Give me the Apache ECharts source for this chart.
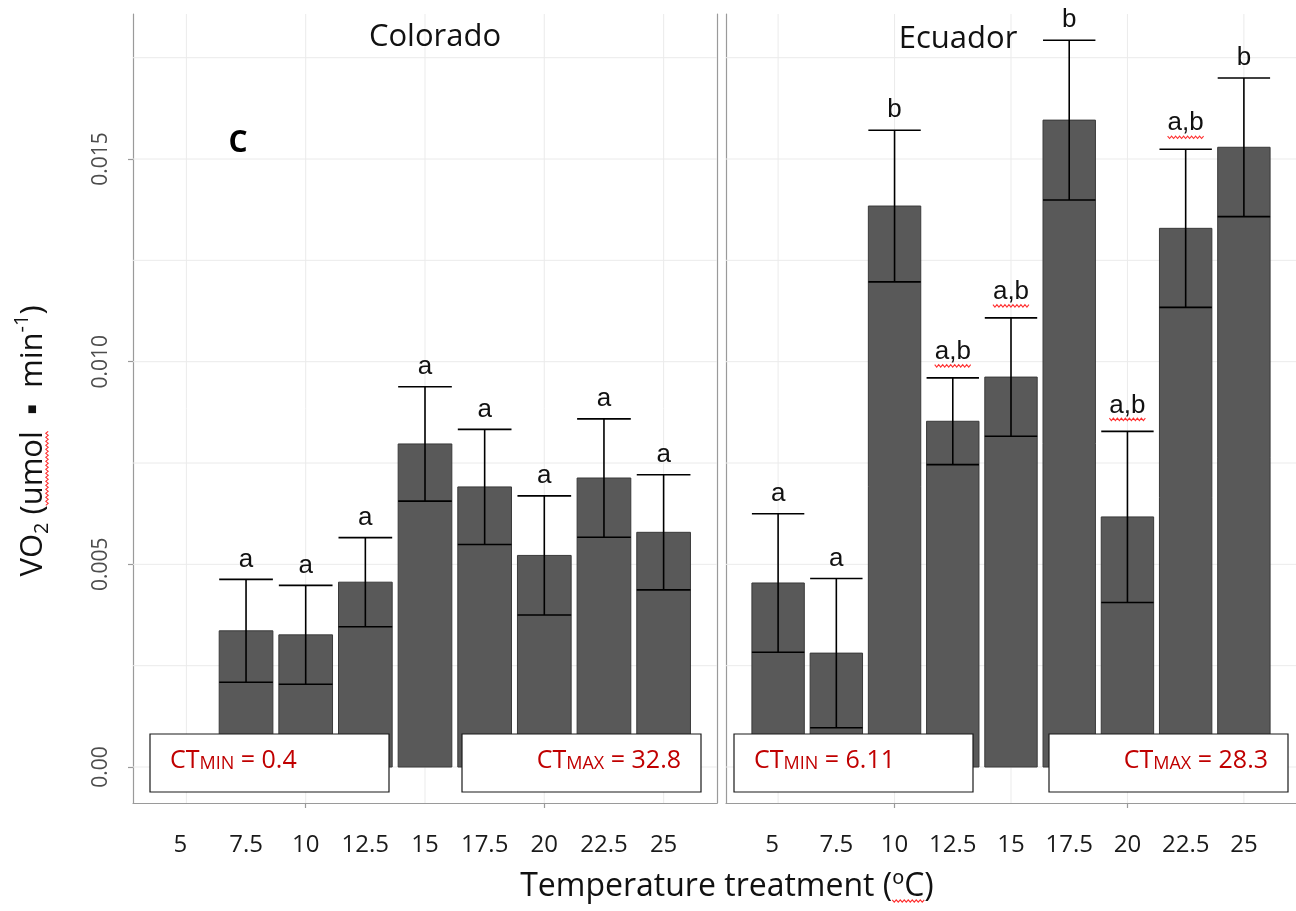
<!DOCTYPE html>
<html>
<head>
<meta charset="utf-8">
<title>VO2 by temperature treatment</title>
<script src="https://cdn.jsdelivr.net/npm/echarts@6/dist/echarts.min.js"></script>
<style>
  html, body { margin: 0; padding: 0; background: #ffffff; }
  #chart { width: 1296px; height: 911px; }
</style>
</head>
<body>
<div id="chart"></div>
<script>
// Treatment temperatures (ºC), shared by both populations
const temps = [5, 7.5, 10, 12.5, 15, 17.5, 20, 22.5, 25];
const tempLabels = ['5', '7.5', '10', '12.5', '15', '17.5', '20', '22.5', '25'];

// Colorado: mean VO2 (umol · min-1) and standard error; nothing measured at 5 ºC
const coloradoMean = [null, 0.00336, 0.00326, 0.00456, 0.00797, 0.00691, 0.00522, 0.00713, 0.00579];
const coloradoSE = [null, 0.00127, 0.00122, 0.00110, 0.00141, 0.00142, 0.00147, 0.00146, 0.00142];
const coloradoGroups = [null, 'a', 'a', 'a', 'a', 'a', 'a', 'a', 'a'];

// Ecuador
const ecuadorMean = [0.00454, 0.00281, 0.01384, 0.00853, 0.00962, 0.01596, 0.00617, 0.01329, 0.01529];
const ecuadorSE = [0.00171, 0.00184, 0.00187, 0.00107, 0.00146, 0.00197, 0.00211, 0.00195, 0.00171];
const ecuadorGroups = ['a', 'a', 'b', 'a,b', 'a,b', 'b', 'a,b', 'a,b', 'b'];

// Axis ticks and reference lines
const yTicks = [0, 0.005, 0.010, 0.015];
const yTickLabels = ['0.00', '0.005', '0.010', '0.015'];
const yGridValues = [0, 0.0025, 0.005, 0.0075, 0.010, 0.0125, 0.015, 0.0175];
const xGridValues = [5, 10, 15, 20, 25];
const xTickValues = [10, 20];

// Critical thermal limits (ºC): Colorado, Ecuador
const ctMin = ['0.4', '6.11'];
const ctMax = ['32.8', '28.3'];
const panelNames = ['Colorado', 'Ecuador'];

// ---- layout ----
const X_MIN = 2.7625, X_MAX = 27.2375;   // bar range 3.875..26.125 padded by 5 %
const Y_MIN = -0.000888, Y_MAX = 0.018578;
const BAR_HALF = 1.125;                  // bar width 2.25 ºC
const SANS = '"Open Sans", "Noto Sans", sans-serif';
const LETTER_FONT = '26px "Liberation Sans", Arial, sans-serif';
const GRID_GRAY = '#ebebeb';
const BORDER_GRAY = '#9a9a9a';
const RED = '#c00000';
const WAVY_RED = '#ff3030';

const measureCtx = document.createElement('canvas').getContext('2d');
function textWidth(str, font) {
  measureCtx.font = font;
  return measureCtx.measureText(str).width;
}

// zig-zag spell-check underline
function squiggle(x0, x1, y) {
  const pts = [];
  let up = true;
  for (let x = x0; x <= x1 + 0.01; x += 2) {
    pts.push([x, y + (up ? -1.2 : 1.2)]);
    up = !up;
  }
  return pts;
}

function rows(means, ses) {
  const out = [];
  temps.forEach((t, i) => {
    if (means[i] != null) out.push([t, means[i], ses[i], i]);
  });
  return out;
}

function renderBar(params, api) {
  const x = api.value(0), m = api.value(1);
  const p0 = api.coord([x - BAR_HALF, m]);
  const p1 = api.coord([x + BAR_HALF, 0]);
  return {
    type: 'rect',
    shape: { x: p0[0], y: p0[1], width: p1[0] - p0[0], height: p1[1] - p0[1] },
    style: { fill: '#595959', stroke: '#3a3a3a', lineWidth: 1 }
  };
}

function errorBarRenderer(groups) {
  return function (params, api) {
    const x = api.value(0), m = api.value(1), se = api.value(2);
    const label = groups[api.value(3)];
    const top = api.coord([x, m + se]);
    const bot = api.coord([x, m - se]);
    const left = api.coord([x - BAR_HALF, 0])[0];
    const right = api.coord([x + BAR_HALF, 0])[0];
    const ls = { stroke: '#000000', lineWidth: 1.6 };
    const children = [
      { type: 'line', shape: { x1: top[0], y1: top[1], x2: bot[0], y2: bot[1] }, style: ls },
      { type: 'line', shape: { x1: left, y1: top[1], x2: right, y2: top[1] }, style: ls },
      { type: 'line', shape: { x1: left, y1: bot[1], x2: right, y2: bot[1] }, style: ls }
    ];
    const paired = label.indexOf(',') >= 0;
    const baseline = top[1] - (paired ? 18 : 12);
    children.push({
      type: 'text',
      style: { text: label, x: top[0], y: baseline + 5, align: 'center', verticalAlign: 'bottom',
               font: LETTER_FONT, fill: '#111111' }
    });
    if (paired) {
      const w = textWidth(label, LETTER_FONT);
      children.push({
        type: 'polyline',
        shape: { points: squiggle(top[0] - w / 2, top[0] + w / 2, baseline + 6) },
        style: { stroke: WAVY_RED, lineWidth: 1.1, fill: 'none' }
      });
    }
    return { type: 'group', children: children };
  };
}

function renderHLine(params, api) {
  const v = api.value(1);
  const a = api.coord([X_MIN, v]), b = api.coord([X_MAX, v]);
  return { type: 'line', shape: { x1: a[0], y1: a[1], x2: b[0], y2: b[1] },
           style: { stroke: GRID_GRAY, lineWidth: 1 } };
}
function renderVLine(params, api) {
  const v = api.value(0);
  const a = api.coord([v, Y_MIN]), b = api.coord([v, Y_MAX]);
  return { type: 'line', shape: { x1: a[0], y1: a[1], x2: b[0], y2: b[1] },
           style: { stroke: GRID_GRAY, lineWidth: 1 } };
}

function xAxisFor(gridIndex) {
  return {
    type: 'value', gridIndex: gridIndex, min: X_MIN, max: X_MAX,
    axisLine: { show: true, onZero: false, lineStyle: { color: BORDER_GRAY, width: 1.2 } },
    axisTick: { show: true, customValues: xTickValues, length: 5, lineStyle: { color: BORDER_GRAY, width: 1.2 } },
    axisLabel: {
      customValues: temps,
      // the first label sits a little left of its bar
      formatter: v => {
        const i = temps.indexOf(v);
        return i === 0 ? '{first|' + tempLabels[i] + '}' : tempLabels[i];
      },
      rich: { first: { fontFamily: SANS, fontSize: 24, color: '#1a1a1a', padding: [0, 12, 0, 0] } },
      fontFamily: SANS, fontSize: 24, color: '#1a1a1a', margin: 30
    },
    splitLine: { show: false }
  };
}

function borderYAxis(gridIndex, position) {
  return {
    type: 'value', gridIndex: gridIndex, position: position, min: Y_MIN, max: Y_MAX,
    axisLine: { show: true, onZero: false, lineStyle: { color: BORDER_GRAY, width: 1.2 } },
    axisTick: { show: false }, axisLabel: { show: false }, splitLine: { show: false }
  };
}

const panels = [
  { means: coloradoMean, ses: coloradoSE, groups: coloradoGroups, xAxis: 0, yAxis: 0 },
  { means: ecuadorMean, ses: ecuadorSE, groups: ecuadorGroups, xAxis: 1, yAxis: 2 }
];

const series = [];
panels.forEach(p => {
  const base = { type: 'custom', xAxisIndex: p.xAxis, yAxisIndex: p.yAxis, silent: true, animation: false };
  series.push(Object.assign({}, base, { z: 1, renderItem: renderHLine, data: yGridValues.map(v => [X_MIN, v]) }));
  series.push(Object.assign({}, base, { z: 1, renderItem: renderVLine, data: xGridValues.map(v => [v, 0]) }));
  series.push(Object.assign({}, base, { z: 2, renderItem: renderBar, data: rows(p.means, p.ses) }));
  series.push(Object.assign({}, base, { z: 3, renderItem: errorBarRenderer(p.groups), data: rows(p.means, p.ses) }));
});

// ---- annotations ----
function titlePieces(pieces, family) {
  // lays out a run of text pieces left to right, centred on 0
  let total = 0;
  pieces.forEach(pc => { pc.w = textWidth(pc.t, pc.size + 'px ' + family); total += pc.w; });
  let x = -total / 2;
  const out = [];
  pieces.forEach(pc => {
    out.push({ type: 'text', style: { text: pc.t, x: x, y: pc.dy || 0, align: 'left', verticalAlign: 'middle',
      font: pc.size + 'px ' + family, fill: '#111111' } });
    if (pc.wavy) {
      out.push({ type: 'polyline', shape: { points: squiggle(x, x + pc.w, pc.wavyY) },
        style: { stroke: WAVY_RED, lineWidth: 1.1, fill: 'none' } });
    }
    x += pc.w;
  });
  return out;
}

const yTitle = titlePieces([
  { t: 'VO', size: 31 },
  { t: '2', size: 20, dy: 9 },
  { t: ' (', size: 31 },
  { t: 'umol', size: 31, wavy: true, wavyY: 14 },
  { t: '  \u25AA  ', size: 31 },
  { t: 'min', size: 31 },
  { t: '-1', size: 20, dy: -11 },
  { t: ')', size: 31 }
], SANS);

const xTitle = titlePieces([
  { t: 'Temperature treatment (', size: 32 },
  { t: '\u00BAC', size: 32, wavy: true, wavyY: 14 },
  { t: ')', size: 32 }
], SANS);

function ctBox(x, w, text, alignRight) {
  return {
    type: 'group', z: 100,
    children: [
      { type: 'rect', shape: { x: x, y: 734, width: w, height: 58 },
        style: { fill: '#ffffff', stroke: '#1a1a1a', lineWidth: 1.2 }, z: 100 },
      { type: 'text', z: 101,
        style: {
          text: text, x: alignRight ? x + w - 20 : x + 20, y: 773, align: alignRight ? 'right' : 'left',
          verticalAlign: 'bottom',
          rich: {
            a: { fontFamily: SANS, fontSize: 25, fill: RED, verticalAlign: 'bottom', lineHeight: 30 },
            b: { fontFamily: SANS, fontSize: 18, fill: RED, verticalAlign: 'bottom', lineHeight: 30 }
          }
        } }
    ]
  };
}

const graphics = [
  { type: 'text', z: 50, style: { text: panelNames[0], x: 435, y: 37, align: 'center', verticalAlign: 'middle',
      font: '31px ' + SANS, fill: '#111111' } },
  { type: 'text', z: 50, style: { text: panelNames[1], x: 958, y: 39, align: 'center', verticalAlign: 'middle',
      font: '31px ' + SANS, fill: '#111111' } },
  { type: 'text', z: 50, style: { text: 'C', x: 238, y: 143, align: 'center', verticalAlign: 'middle',
      font: 'bold 30px ' + SANS, fill: '#000000' } },
  { type: 'group', x: 33, y: 441, rotation: Math.PI / 2, children: yTitle },
  { type: 'group', x: 727, y: 887, children: xTitle },
  ctBox(150, 239, '{a|CT}{b|MIN}{a| = ' + ctMin[0] + '}', false),
  ctBox(462, 239, '{a|CT}{b|MAX}{a| = ' + ctMax[0] + '}', true),
  ctBox(734, 239, '{a|CT}{b|MIN}{a| = ' + ctMin[1] + '}', false),
  ctBox(1049, 239, '{a|CT}{b|MAX}{a| = ' + ctMax[1] + '}', true)
];

const chart = echarts.init(document.getElementById('chart'), null, { renderer: 'canvas' });
chart.setOption({
  animation: false,
  backgroundColor: '#ffffff',
  grid: [
    { left: 133, top: 14, width: 584, height: 789 },
    { left: 726, top: 14, width: 584, height: 789 }
  ],
  xAxis: [xAxisFor(0), xAxisFor(1)],
  yAxis: [
    {
      type: 'value', gridIndex: 0, position: 'left', min: Y_MIN, max: Y_MAX,
      axisLine: { show: true, onZero: false, lineStyle: { color: BORDER_GRAY, width: 1.2 } },
      axisTick: { show: true, customValues: yTicks, length: 5, lineStyle: { color: BORDER_GRAY, width: 1.2 } },
      axisLabel: {
        customValues: yTicks, rotate: 90, margin: 21,
        formatter: v => yTickLabels[yTicks.findIndex(t => Math.abs(t - v) < 1e-9)],
        fontFamily: SANS, fontSize: 21, color: '#4d4d4d'
      },
      splitLine: { show: false }
    },
    borderYAxis(0, 'right'),
    borderYAxis(1, 'left')
  ],
  series: series,
  graphic: graphics
});
</script>
</body>
</html>
